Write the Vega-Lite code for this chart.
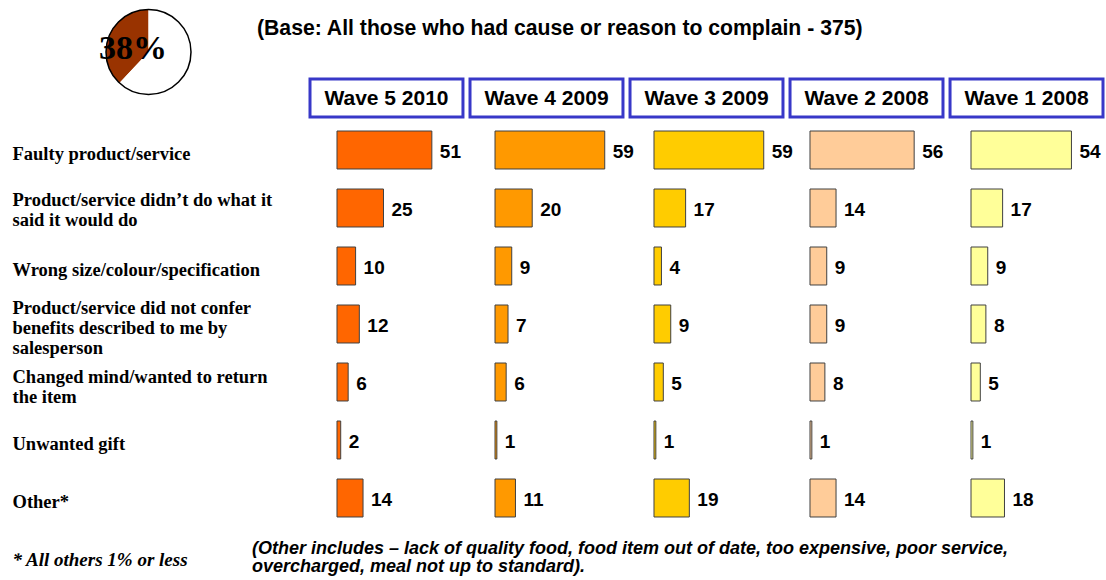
{
  "$schema": "https://vega.github.io/schema/vega-lite/v6.json",
  "width": 1106,
  "height": 580,
  "autosize": {"type": "none"},
  "padding": 0,
  "background": "white",
  "config": {"view": {"stroke": null}, "font": "Liberation Sans"},
  "datasets": {
    "bars": [
      {"category": "Faulty product/service", "wave": "Wave 5 2010", "value": 51},
      {"category": "Faulty product/service", "wave": "Wave 4 2009", "value": 59},
      {"category": "Faulty product/service", "wave": "Wave 3 2009", "value": 59},
      {"category": "Faulty product/service", "wave": "Wave 2 2008", "value": 56},
      {"category": "Faulty product/service", "wave": "Wave 1 2008", "value": 54},
      {"category": "Product/service didn’t do what it said it would do", "wave": "Wave 5 2010", "value": 25},
      {"category": "Product/service didn’t do what it said it would do", "wave": "Wave 4 2009", "value": 20},
      {"category": "Product/service didn’t do what it said it would do", "wave": "Wave 3 2009", "value": 17},
      {"category": "Product/service didn’t do what it said it would do", "wave": "Wave 2 2008", "value": 14},
      {"category": "Product/service didn’t do what it said it would do", "wave": "Wave 1 2008", "value": 17},
      {"category": "Wrong size/colour/specification", "wave": "Wave 5 2010", "value": 10},
      {"category": "Wrong size/colour/specification", "wave": "Wave 4 2009", "value": 9},
      {"category": "Wrong size/colour/specification", "wave": "Wave 3 2009", "value": 4},
      {"category": "Wrong size/colour/specification", "wave": "Wave 2 2008", "value": 9},
      {"category": "Wrong size/colour/specification", "wave": "Wave 1 2008", "value": 9},
      {"category": "Product/service did not confer benefits described to me by salesperson", "wave": "Wave 5 2010", "value": 12},
      {"category": "Product/service did not confer benefits described to me by salesperson", "wave": "Wave 4 2009", "value": 7},
      {"category": "Product/service did not confer benefits described to me by salesperson", "wave": "Wave 3 2009", "value": 9},
      {"category": "Product/service did not confer benefits described to me by salesperson", "wave": "Wave 2 2008", "value": 9},
      {"category": "Product/service did not confer benefits described to me by salesperson", "wave": "Wave 1 2008", "value": 8},
      {"category": "Changed mind/wanted to return the item", "wave": "Wave 5 2010", "value": 6},
      {"category": "Changed mind/wanted to return the item", "wave": "Wave 4 2009", "value": 6},
      {"category": "Changed mind/wanted to return the item", "wave": "Wave 3 2009", "value": 5},
      {"category": "Changed mind/wanted to return the item", "wave": "Wave 2 2008", "value": 8},
      {"category": "Changed mind/wanted to return the item", "wave": "Wave 1 2008", "value": 5},
      {"category": "Unwanted gift", "wave": "Wave 5 2010", "value": 2},
      {"category": "Unwanted gift", "wave": "Wave 4 2009", "value": 1},
      {"category": "Unwanted gift", "wave": "Wave 3 2009", "value": 1},
      {"category": "Unwanted gift", "wave": "Wave 2 2008", "value": 1},
      {"category": "Unwanted gift", "wave": "Wave 1 2008", "value": 1},
      {"category": "Other*", "wave": "Wave 5 2010", "value": 14},
      {"category": "Other*", "wave": "Wave 4 2009", "value": 11},
      {"category": "Other*", "wave": "Wave 3 2009", "value": 19},
      {"category": "Other*", "wave": "Wave 2 2008", "value": 14},
      {"category": "Other*", "wave": "Wave 1 2008", "value": 18}
    ],
    "pie": [
      {"slice": "Had cause or reason to complain", "share": 0.38},
      {"slice": "No cause to complain", "share": 0.62}
    ],
    "waves": [
      {"wave": "Wave 5 2010"},
      {"wave": "Wave 4 2009"},
      {"wave": "Wave 3 2009"},
      {"wave": "Wave 2 2008"},
      {"wave": "Wave 1 2008"}
    ],
    "notes": [
      {"kind": "base", "text": "(Base: All those who had cause or reason to complain - 375)"},
      {"kind": "other", "text": "(Other includes – lack of quality food, food item out of date, too expensive, poor service,|overcharged, meal not up to standard)."}
    ]
  },
  "data": {"name": "bars"},
  "encoding": {
    "y": {
      "field": "category",
      "type": "nominal",
      "scale": {
        "type": "band",
        "domain": ["TOP", "HDR", "Faulty product/service", "Product/service didn’t do what it said it would do", "Wrong size/colour/specification", "Product/service did not confer benefits described to me by salesperson", "Changed mind/wanted to return the item", "Unwanted gift", "Other*", "NOTE"],
        "range": [5, 585],
        "paddingInner": 0.345,
        "paddingOuter": 0.1725
      },
      "axis": {
        "title": null,
        "orient": "left",
        "offset": -12,
        "domain": false,
        "ticks": false,
        "tickSize": 0,
        "grid": false,
        "labelPadding": 0,
        "labelAlign": "left",
        "labelBaseline": "middle",
        "labelOverlap": false,
        "labelLimit": 0,
        "labelColor": "black",
        "labelFont": "Liberation Serif",
        "labelFontWeight": "bold",
        "labelLineHeight": 20,
        "labelFontSize": {"condition": {"test": "datum.value === 'NOTE'", "value": 19}, "value": 18.5},
        "labelFontStyle": {"condition": {"test": "datum.value === 'NOTE'", "value": "italic"}, "value": "normal"},
        "labelOffset": {"condition": [
          {"test": "datum.value === 'Product/service did not confer benefits described to me by salesperson'", "value": -16},
          {"test": "datum.value === 'Product/service didn’t do what it said it would do'", "value": -8},
          {"test": "datum.value === 'Changed mind/wanted to return the item'", "value": -5}
        ], "value": 4},
        "labelExpr": "datum.value === 'TOP' || datum.value === 'HDR' ? '' : datum.value === 'NOTE' ? '*  All others 1% or less' : datum.value === 'Product/service didn’t do what it said it would do' ? ['Product/service didn’t do what it', 'said it would do'] : datum.value === 'Product/service did not confer benefits described to me by salesperson' ? ['Product/service did not confer', 'benefits described to me by', 'salesperson'] : datum.value === 'Changed mind/wanted to return the item' ? ['Changed mind/wanted to return', 'the item'] : datum.label"
      }
    }
  },
  "resolve": {"scale": {"x": "independent", "color": "independent"}},
  "layer": [
    {
      "data": {"name": "waves"},
      "encoding": {
        "x": {"field": "wave", "type": "nominal", "scale": {"type": "band", "domain": ["Wave 5 2010", "Wave 4 2009", "Wave 3 2009", "Wave 2 2008", "Wave 1 2008"], "range": [310, 1103], "paddingInner": 0.044, "paddingOuter": 0}, "axis": null},
        "y": {"datum": "HDR", "type": "nominal"}
      },
      "layer": [
        {"mark": {"type": "rect", "fill": "white", "stroke": "#3838C8", "strokeWidth": 3, "yOffset": 6, "y2Offset": 6}},
        {"mark": {"type": "text", "fontSize": 21, "fontWeight": "bold", "fill": "black", "yOffset": 7}, "encoding": {"text": {"field": "wave"}}}
      ]
    },
    {
      "encoding": {
        "x": {"datum": "Wave 5 2010", "type": "nominal", "bandPosition": 0, "scale": {"type": "band", "domain": ["Wave 5 2010", "Wave 4 2009", "Wave 3 2009", "Wave 2 2008", "Wave 1 2008"], "range": [310, 1103], "paddingInner": 0.044, "paddingOuter": 0}, "axis": null}
      },
      "layer": [
        {
          "data": {"name": "pie"},
          "mark": {"type": "arc", "radius": 42.5, "xOffset": -161.5, "yOffset": 18},
          "encoding": {
            "y": {"datum": "TOP", "type": "nominal"},
            "theta": {"field": "share", "type": "quantitative"},
            "color": {"field": "slice", "type": "nominal", "scale": {"domain": ["Had cause or reason to complain", "No cause to complain"], "range": ["#993300", "#FFFFFF"]}, "legend": null},
            "order": {"field": "share", "sort": "descending"}
          }
        },
        {
          "data": {"name": "pie"},
          "transform": [{"filter": "datum.share < 0.5"}],
          "mark": {"type": "point", "shape": "circle", "size": 7225, "filled": false, "stroke": "black", "strokeWidth": 1.5, "opacity": 1, "xOffset": -161.5, "yOffset": 18},
          "encoding": {"y": {"datum": "TOP", "type": "nominal"}}
        },
        {
          "data": {"name": "pie"},
          "transform": [{"filter": "datum.share < 0.5"}],
          "mark": {"type": "text", "font": "Liberation Serif", "fontWeight": "bold", "fontSize": 34, "fill": "black", "xOffset": -177, "yOffset": 15},
          "encoding": {"y": {"datum": "TOP", "type": "nominal"}, "text": {"field": "share", "type": "quantitative", "format": ".0%"}}
        },
        {
          "data": {"name": "notes"},
          "transform": [{"filter": "datum.kind === 'base'"}],
          "mark": {"type": "text", "align": "left", "fontSize": 21.2, "fontWeight": "bold", "fill": "black", "xOffset": -53, "yOffset": -5},
          "encoding": {"y": {"datum": "TOP", "type": "nominal"}, "text": {"field": "text"}}
        },
        {
          "data": {"name": "notes"},
          "transform": [{"filter": "datum.kind === 'other'"}],
          "mark": {"type": "text", "align": "left", "lineBreak": "|", "lineHeight": 18, "font": "Liberation Sans", "fontSize": 18, "fontWeight": "bold", "fontStyle": "italic", "fill": "black", "xOffset": -58, "yOffset": -7},
          "encoding": {"y": {"datum": "NOTE", "type": "nominal"}, "text": {"field": "text"}}
        }
      ]
    },
    {
      "transform": [{"filter": "datum.wave === 'Wave 5 2010'"}],
      "encoding": {"x": {"field": "value", "type": "quantitative", "scale": {"domain": [-181.18, 413.44], "nice": false}, "axis": null}},
      "layer": [
        {"mark": {"type": "bar", "stroke": "#404040", "strokeWidth": 1}, "encoding": {"color": {"field": "wave", "type": "nominal", "scale": {"domain": ["Wave 5 2010", "Wave 4 2009", "Wave 3 2009", "Wave 2 2008", "Wave 1 2008"], "range": ["#FF6600", "#FF9900", "#FFCC00", "#FFCC99", "#FFFF99"]}, "legend": null}}},
        {"mark": {"type": "text", "align": "left", "dx": 8, "dy": 2, "fontSize": 19, "fontWeight": "bold", "fill": "black"}, "encoding": {"text": {"field": "value", "type": "quantitative"}}}
      ]
    },
    {
      "transform": [{"filter": "datum.wave === 'Wave 4 2009'"}],
      "encoding": {"x": {"field": "value", "type": "quantitative", "scale": {"domain": [-266.13, 328.49], "nice": false}, "axis": null}},
      "layer": [
        {"mark": {"type": "bar", "stroke": "#404040", "strokeWidth": 1}, "encoding": {"color": {"field": "wave", "type": "nominal", "scale": {"domain": ["Wave 5 2010", "Wave 4 2009", "Wave 3 2009", "Wave 2 2008", "Wave 1 2008"], "range": ["#FF6600", "#FF9900", "#FFCC00", "#FFCC99", "#FFFF99"]}, "legend": null}}},
        {"mark": {"type": "text", "align": "left", "dx": 8, "dy": 2, "fontSize": 19, "fontWeight": "bold", "fill": "black"}, "encoding": {"text": {"field": "value", "type": "quantitative"}}}
      ]
    },
    {
      "transform": [{"filter": "datum.wave === 'Wave 3 2009'"}],
      "encoding": {"x": {"field": "value", "type": "quantitative", "scale": {"domain": [-351.61, 243.01], "nice": false}, "axis": null}},
      "layer": [
        {"mark": {"type": "bar", "stroke": "#404040", "strokeWidth": 1}, "encoding": {"color": {"field": "wave", "type": "nominal", "scale": {"domain": ["Wave 5 2010", "Wave 4 2009", "Wave 3 2009", "Wave 2 2008", "Wave 1 2008"], "range": ["#FF6600", "#FF9900", "#FFCC00", "#FFCC99", "#FFFF99"]}, "legend": null}}},
        {"mark": {"type": "text", "align": "left", "dx": 8, "dy": 2, "fontSize": 19, "fontWeight": "bold", "fill": "black"}, "encoding": {"text": {"field": "value", "type": "quantitative"}}}
      ]
    },
    {
      "transform": [{"filter": "datum.wave === 'Wave 2 2008'"}],
      "encoding": {"x": {"field": "value", "type": "quantitative", "scale": {"domain": [-435.48, 159.14], "nice": false}, "axis": null}},
      "layer": [
        {"mark": {"type": "bar", "stroke": "#404040", "strokeWidth": 1}, "encoding": {"color": {"field": "wave", "type": "nominal", "scale": {"domain": ["Wave 5 2010", "Wave 4 2009", "Wave 3 2009", "Wave 2 2008", "Wave 1 2008"], "range": ["#FF6600", "#FF9900", "#FFCC00", "#FFCC99", "#FFFF99"]}, "legend": null}}},
        {"mark": {"type": "text", "align": "left", "dx": 8, "dy": 2, "fontSize": 19, "fontWeight": "bold", "fill": "black"}, "encoding": {"text": {"field": "value", "type": "quantitative"}}}
      ]
    },
    {
      "transform": [{"filter": "datum.wave === 'Wave 1 2008'"}],
      "encoding": {"x": {"field": "value", "type": "quantitative", "scale": {"domain": [-522.04, 72.58], "nice": false}, "axis": null}},
      "layer": [
        {"mark": {"type": "bar", "stroke": "#404040", "strokeWidth": 1}, "encoding": {"color": {"field": "wave", "type": "nominal", "scale": {"domain": ["Wave 5 2010", "Wave 4 2009", "Wave 3 2009", "Wave 2 2008", "Wave 1 2008"], "range": ["#FF6600", "#FF9900", "#FFCC00", "#FFCC99", "#FFFF99"]}, "legend": null}}},
        {"mark": {"type": "text", "align": "left", "dx": 8, "dy": 2, "fontSize": 19, "fontWeight": "bold", "fill": "black"}, "encoding": {"text": {"field": "value", "type": "quantitative"}}}
      ]
    }
  ]
}
